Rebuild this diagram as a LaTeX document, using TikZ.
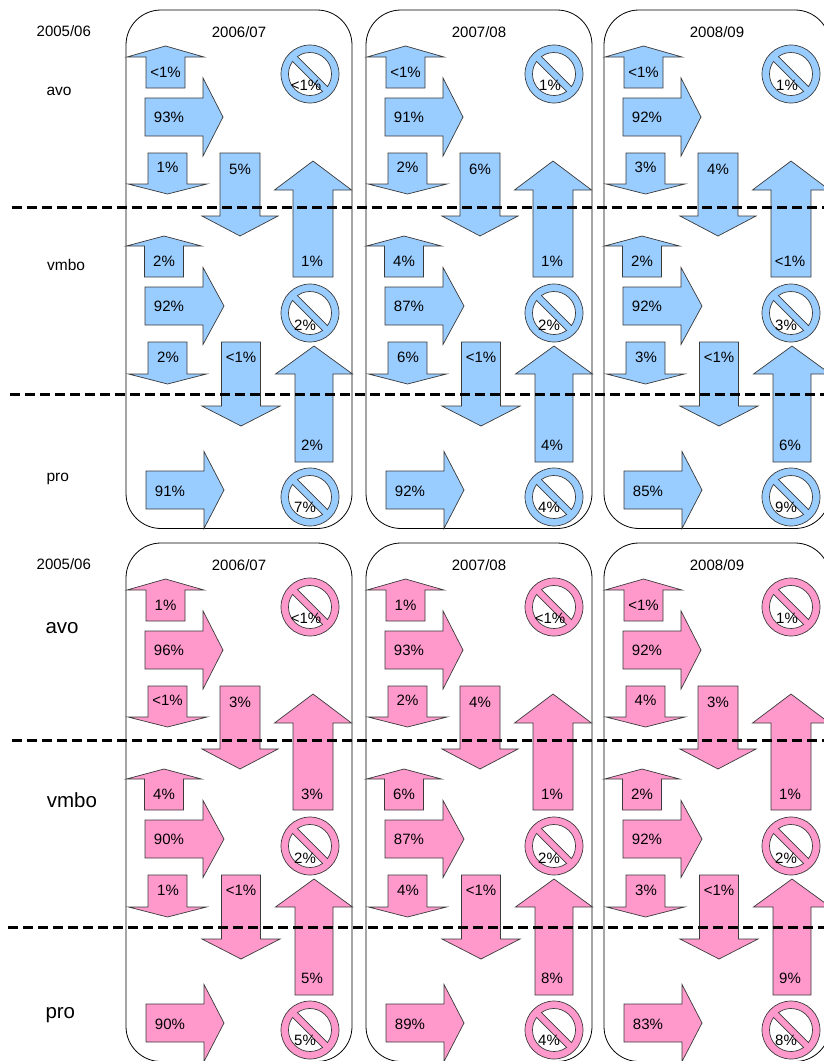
\documentclass[tikz,border=0pt]{standalone}
\usepackage{fontspec}
\setmainfont{Liberation Sans}
\definecolor{blu}{HTML}{99CCFF}
\definecolor{pnk}{HTML}{FF99CC}
\definecolor{edge}{HTML}{3A3A3A}
\tikzset{
  arr/.style={draw=edge, line width=0.7pt},
  lbl/.style={inner sep=0pt, font=\fontsize{15}{18}\selectfont},
  side/.style={inner sep=0pt, font=\fontsize{15.5}{18}\selectfont},
  sidebig/.style={inner sep=0pt, font=\fontsize{20.5}{24}\selectfont},
  panel/.style={draw=black, line width=0.8pt, rounded corners=35pt},
  divider/.style={draw=black, line width=3pt, dash pattern=on 10pt off 5pt},
}
% vertical arrow: cx, tip y, head-base y, tail y, shaft half width, head half width
\newcommand{\VArr}[6]{%
  \filldraw[arr, fill=\col] (#1,#2) -- (#1+#6,#3) -- (#1+#5,#3) -- (#1+#5,#4)
    -- (#1-#5,#4) -- (#1-#5,#3) -- (#1-#6,#3) -- cycle;}
% horizontal arrow: cy, tip x, head-base x, tail x, shaft half height, head half height
\newcommand{\HArr}[6]{%
  \filldraw[arr, fill=\col] (#2,#1) -- (#3,#1-#6) -- (#3,#1-#5) -- (#4,#1-#5)
    -- (#4,#1+#5) -- (#3,#1+#5) -- (#3,#1+#6) -- cycle;}
% "no" symbol: cx, cy
\newcommand{\NoSym}[2]{%
  \filldraw[arr, fill=\col] (#1,#2) circle[radius=29];
  \filldraw[arr, fill=white] ([shift={(234.37:21.5)}]#1,#2)
    arc[start angle=234.37, end angle=395.63, radius=21.5] -- cycle;
  \filldraw[arr, fill=white] ([shift={(54.37:21.5)}]#1,#2)
    arc[start angle=54.37, end angle=215.63, radius=21.5] -- cycle;}
\begin{document}
\begin{tikzpicture}[x=1pt,y=-1pt]
\useasboundingbox (0,0) rectangle (824,1061);
\clip (0,0) rectangle (824,1061);
\fill[white] (0,0) rectangle (824,1061);

% panels
\foreach \dx/\dy in {0/0,240/0,478/0,0/533,240/533,478/533}
  \draw[panel] (126+\dx,10+\dy) rectangle (352+\dx,528.5+\dy);

% side labels
\node[lbl, anchor=base west] (yA) at (36.5,36) {2005/06};
\node[side, anchor=base west] (avoA) at (46.4,95) {avo};
\node[side, anchor=base west] (vmboA) at (47,270) {vmbo};
\node[side, anchor=base west] (proA) at (46.4,481) {pro};
\node[lbl, anchor=base west] (yB) at (36.5,569) {2005/06};
\node[sidebig, anchor=base west] (avoB) at (45.3,633) {avo};
\node[sidebig, anchor=base west] (vmboB) at (46.6,807) {vmbo};
\node[sidebig, anchor=base west] (proB) at (45.3,1018) {pro};

\foreach \id/\dx/\dy/\col/\ce/\ya/\yb/\aU/\aR/\aN/\aD/\aBD/\aBU/\vU/\vR/\vN/\vD/\vBD/\vBU/\pR/\pN in {
1/0/0/blu/0/2006/07/<1\%/93\%/<1\%/1\%/5\%/1\%/2\%/92\%/2\%/2\%/<1\%/2\%/91\%/7\%,
2/240/0/blu/4/2007/08/<1\%/91\%/1\%/2\%/6\%/1\%/4\%/87\%/2\%/6\%/<1\%/4\%/92\%/4\%,
3/478/0/blu/3/2008/09/<1\%/92\%/1\%/3\%/4\%/<1\%/2\%/92\%/3\%/3\%/<1\%/6\%/85\%/9\%,
4/0/533/pnk/0/2006/07/1\%/96\%/<1\%/<1\%/3\%/3\%/4\%/90\%/2\%/1\%/<1\%/5\%/90\%/5\%,
5/240/533/pnk/4/2007/08/1\%/93\%/<1\%/2\%/4\%/1\%/6\%/87\%/2\%/4\%/<1\%/8\%/89\%/4\%,
6/478/533/pnk/3/2008/09/<1\%/92\%/1\%/4\%/3\%/1\%/2\%/92\%/2\%/3\%/<1\%/9\%/83\%/8\%}
{
\begin{scope}[shift={(\dx,\dy)}]
  % avo row
  \VArr{165.5}{46}{57}{88}{19.5}{38.5}
  \HArr{117}{223}{203}{145}{19}{39}
  \VArr{167.5}{194}{184}{153}{19.5}{39.5}
  \VArr{240}{236}{216}{153}{20}{38}
  \VArr{313}{161}{190}{277}{20}{38.5}
  \NoSym{310+\ce}{74}
  % vmbo row
  \VArr{164}{236}{246}{277}{19.5}{37.5}
  \HArr{306}{224}{203}{145}{19}{38.5}
  \NoSym{310+\ce}{313}
  \VArr{167.5}{384}{374}{342}{19.5}{39}
  \VArr{241}{426}{406}{342}{19.5}{39}
  \VArr{314}{346}{374}{462}{19}{38.5}
  % pro row
  \HArr{490}{224}{204}{146}{19}{38.5}
  \NoSym{310+\ce}{497}
  % labels
  \node[lbl, anchor=base] (\id-yr) at (239,37) {\ya/\yb};
  \node[lbl] (\id-au) at (165.5,72.5) {\aU};
  \node[lbl] (\id-ar) at (169,117.5) {\aR};
  \node[lbl] (\id-an) at (306+\ce,85) {\aN};
  \node[lbl] (\id-ad) at (167.5,167.5) {\aD};
  \node[lbl] (\id-abd) at (240,169) {\aBD};
  \node[lbl] (\id-abu) at (312,261) {\aBU};
  \node[lbl] (\id-vu) at (164,261.5) {\vU};
  \node[lbl] (\id-vr) at (169,306.5) {\vR};
  \node[lbl] (\id-vn) at (305+\ce,325) {\vN};
  \node[lbl] (\id-vd) at (168,357.5) {\vD};
  \node[lbl] (\id-vbd) at (241,357) {\vBD};
  \node[lbl] (\id-vbu) at (312,445) {\vBU};
  \node[lbl] (\id-pr) at (170,491) {\pR};
  \node[lbl] (\id-pn) at (305+\ce,507) {\pN};
\end{scope}
}

% dashed dividers
\coordinate (d1a) at (12,207);  \coordinate (d1b) at (830,207);
\coordinate (d2a) at (10,394);  \coordinate (d2b) at (830,394);
\coordinate (d3a) at (12,740);  \coordinate (d3b) at (830,740);
\coordinate (d4a) at (8,927);   \coordinate (d4b) at (830,927);
\draw[divider] (d1a) -- (d1b);
\draw[divider] (d2a) -- (d2b);
\draw[divider] (d3a) -- (d3b);
\draw[divider] (d4a) -- (d4b);
\end{tikzpicture}
\end{document}
